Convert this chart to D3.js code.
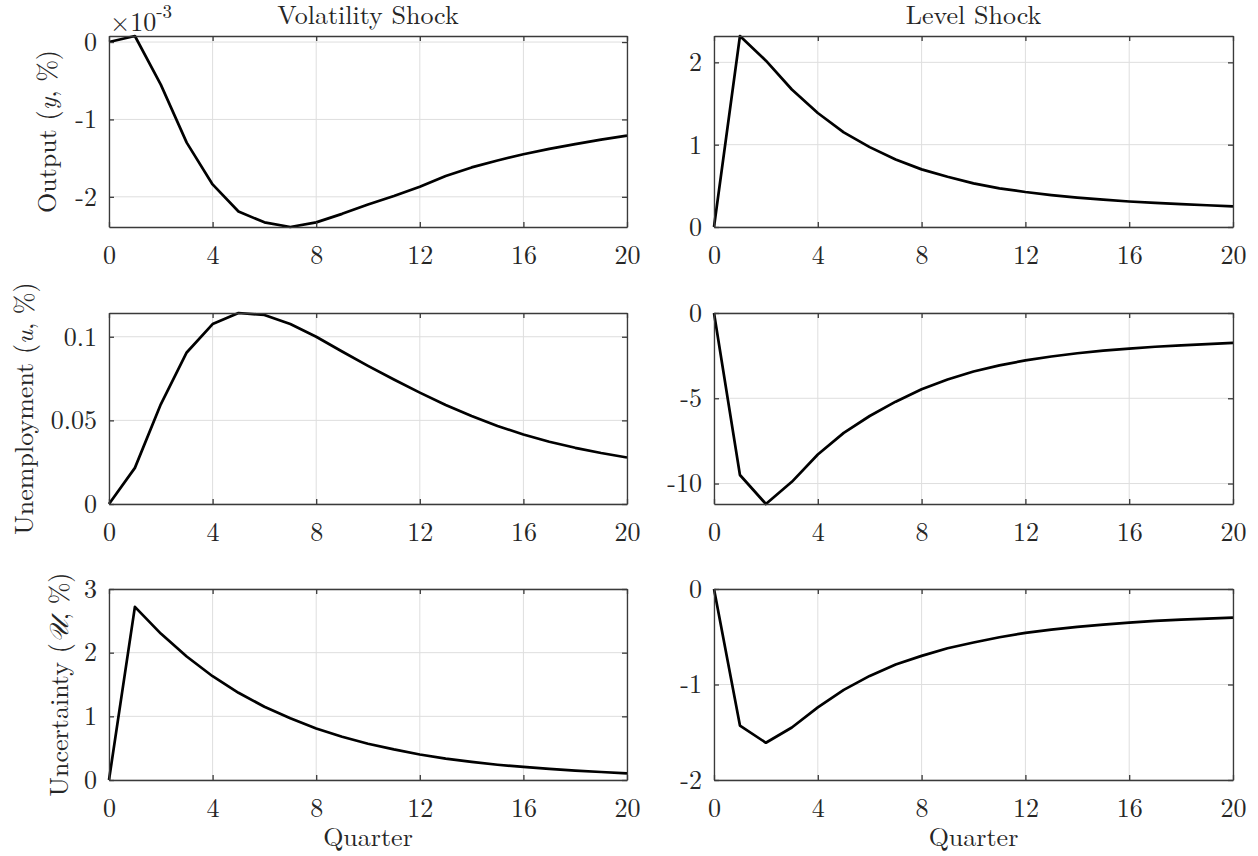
<!DOCTYPE html>
<html><head><meta charset="utf-8">
<script src="https://cdn.jsdelivr.net/npm/d3@7"></script>
<style>
body{margin:0;background:#fff}
svg text{font-family:"Latin Modern Roman","Liberation Serif",serif;fill:#262626}
</style>
</head><body><svg id="c" width="1258" height="856"></svg>
<script>
// ---- data ----
const quarters = [0,1,2,3,4,5,6,7,8,9,10,11,12,13,14,15,16,17,18,19,20];
const xTicks = [0,4,8,12,16,20];
const columnTitles = ["Volatility Shock","Level Shock"];
const xLabel = "Quarter";

// Volatility shock responses
const volOutput = [0, 0.078, -0.55, -1.30, -1.84, -2.19, -2.33, -2.39, -2.33, -2.22, -2.10, -1.99, -1.87, -1.73, -1.62, -1.53, -1.45, -1.38, -1.32, -1.26, -1.21]; // x 10^-3
const volUnemp  = [0, 0.0216, 0.0596, 0.0906, 0.1076, 0.1142, 0.1130, 0.1076, 0.1000, 0.0912, 0.0826, 0.0744, 0.0666, 0.0592, 0.0526, 0.0466, 0.0416, 0.0372, 0.0336, 0.0305, 0.0278];
const volUnc    = [0, 2.72, 2.30, 1.94, 1.63, 1.37, 1.15, 0.97, 0.81, 0.68, 0.57, 0.48, 0.40, 0.337, 0.284, 0.24, 0.205, 0.175, 0.148, 0.126, 0.105];

// Level shock responses
const lvlOutput = [0, 2.32, 2.02, 1.67, 1.385, 1.15, 0.97, 0.82, 0.70, 0.61, 0.53, 0.47, 0.425, 0.388, 0.357, 0.332, 0.31, 0.292, 0.277, 0.264, 0.25];
const lvlUnemp  = [0, -9.5, -11.2, -9.9, -8.3, -7.03, -6.04, -5.2, -4.47, -3.9, -3.43, -3.07, -2.78, -2.55, -2.36, -2.21, -2.09, -1.98, -1.9, -1.82, -1.75];
const lvlUnc    = [0, -1.43, -1.61, -1.45, -1.24, -1.056, -0.91, -0.79, -0.70, -0.62, -0.56, -0.505, -0.46, -0.425, -0.397, -0.373, -0.352, -0.334, -0.32, -0.31, -0.30];

// y-axis limits and ticks
const yDomVolOutput = [-2.39, 0.078], yTicksVolOutput = [-2,-1,0], yTickLabelsVolOutput = ["-2","-1","0"];
const yDomVolUnemp  = [0, 0.1142],   yTicksVolUnemp  = [0,0.05,0.1], yTickLabelsVolUnemp = ["0","0.05","0.1"];
const yDomVolUnc    = [0, 3],        yTicksVolUnc    = [0,1,2,3], yTickLabelsVolUnc = ["0","1","2","3"];
const yDomLvlOutput = [0, 2.32],     yTicksLvlOutput = [0,1,2], yTickLabelsLvlOutput = ["0","1","2"];
const yDomLvlUnemp  = [-11.2, 0],    yTicksLvlUnemp  = [-10,-5,0], yTickLabelsLvlUnemp = ["-10","-5","0"];
const yDomLvlUnc    = [-2, 0],       yTicksLvlUnc    = [-2,-1,0], yTickLabelsLvlUnc = ["-2","-1","0"];

// ---- layout ----
const FONT = '"Latin Modern Roman","Liberation Serif",serif';
const svg = d3.select("#c");
const colX = [[109, 627], [714, 1233]];
const rowTop = [36, 313, 589], rowH = 191;
const axisColor = "#3a3a3a", gridColor = "#dedede";

const panels = [
  {r:0,c:0,data:volOutput,dom:yDomVolOutput,ticks:yTicksVolOutput,labels:yTickLabelsVolOutput,ylab:["Output (","y",", %)"],ylx:56,exp:true},
  {r:1,c:0,data:volUnemp,dom:yDomVolUnemp,ticks:yTicksVolUnemp,labels:yTickLabelsVolUnemp,ylab:["Unemployment (","u",", %)"],ylx:33},
  {r:2,c:0,data:volUnc,dom:yDomVolUnc,ticks:yTicksVolUnc,labels:yTickLabelsVolUnc,ylab:["Uncertainty (","\u{1D4B0}",", %)"],ylx:68},
  {r:0,c:1,data:lvlOutput,dom:yDomLvlOutput,ticks:yTicksLvlOutput,labels:yTickLabelsLvlOutput},
  {r:1,c:1,data:lvlUnemp,dom:yDomLvlUnemp,ticks:yTicksLvlUnemp,labels:yTickLabelsLvlUnemp},
  {r:2,c:1,data:lvlUnc,dom:yDomLvlUnc,ticks:yTicksLvlUnc,labels:yTickLabelsLvlUnc}
];

panels.forEach(p => {
  const [x0, x1] = colX[p.c];
  const y0 = rowTop[p.r], y1 = y0 + rowH;
  const x = d3.scaleLinear().domain([0, 20]).range([x0, x1]);
  const y = d3.scaleLinear().domain(p.dom).range([y1, y0]);
  const g = svg.append("g");

  // grid
  g.append("g").selectAll("line").data(xTicks).join("line")
    .attr("x1", d => x(d)).attr("x2", d => x(d)).attr("y1", y0).attr("y2", y1)
    .attr("stroke", gridColor).attr("stroke-width", 1);
  g.append("g").selectAll("line").data(p.ticks).join("line")
    .attr("y1", d => y(d)).attr("y2", d => y(d)).attr("x1", x0).attr("x2", x1)
    .attr("stroke", gridColor).attr("stroke-width", 1);

  // data line
  g.append("path").datum(p.data)
    .attr("fill", "none").attr("stroke", "#000").attr("stroke-width", 2.7)
    .attr("stroke-linejoin", "round")
    .attr("d", d3.line().x((d, i) => x(quarters[i])).y(d => y(d)));

  // axes (ticks inside, box)
  const styleAxis = sel => {
    sel.attr("font-family", FONT);
    sel.select(".domain").attr("stroke", axisColor).attr("stroke-width", 1.3);
    sel.selectAll(".tick line").attr("stroke", axisColor).attr("stroke-width", 1.3);
  };
  g.append("g").attr("transform", `translate(0,${y1})`)
    .call(d3.axisBottom(x).tickValues(xTicks).tickSize(-5).tickSizeOuter(0).tickPadding(12).tickFormat(d3.format("d")))
    .call(styleAxis)
    .call(s => s.selectAll(".tick text").attr("font-size", 26).attr("fill", "#262626").attr("dy", "0.95em"));
  g.append("g").attr("transform", `translate(0,${y0})`)
    .call(d3.axisTop(x).tickValues(xTicks).tickSize(-5).tickSizeOuter(0).tickFormat(""))
    .call(styleAxis);
  g.append("g").attr("transform", `translate(${x0},0)`)
    .call(d3.axisLeft(y).tickValues(p.ticks).tickSize(-5).tickSizeOuter(0).tickPadding(12).tickFormat((d, i) => p.labels[i]))
    .call(styleAxis)
    .call(s => s.selectAll(".tick text").attr("font-size", 26).attr("fill", "#262626"));
  g.append("g").attr("transform", `translate(${x1},0)`)
    .call(d3.axisRight(y).tickValues(p.ticks).tickSize(-5).tickSizeOuter(0).tickFormat(""))
    .call(styleAxis);

  // y label
  if (p.ylab) {
    const t = g.append("text")
      .attr("transform", `translate(${p.ylx},${(y0 + y1) / 2}) rotate(-90)`)
      .attr("text-anchor", "middle").attr("font-size", 26).attr("font-family", FONT)
      .style("white-space", "pre");
    t.append("tspan").text(p.ylab[0]);
    t.append("tspan").attr("font-style", "italic").text(p.ylab[1]);
    t.append("tspan").text(p.ylab[2]);
  }
  if (p.exp) {
    const t = svg.append("text").attr("x", x0 + 1).attr("y", 31).attr("font-size", 26).attr("font-family", FONT);
    t.append("tspan").text("\u00D710");
    t.append("tspan").attr("font-size", 19).attr("dy", -13).text("-3");
  }
  if (p.r === 0) {
    svg.append("text").attr("x", (x0 + x1) / 2).attr("y", 24).attr("text-anchor", "middle")
      .attr("font-size", 26).attr("font-family", FONT).text(columnTitles[p.c]);
  }
  if (p.r === 2) {
    svg.append("text").attr("x", (x0 + x1) / 2).attr("y", 846).attr("text-anchor", "middle")
      .attr("font-size", 26).attr("font-family", FONT).text(xLabel);
  }
});
</script>
</body></html>
